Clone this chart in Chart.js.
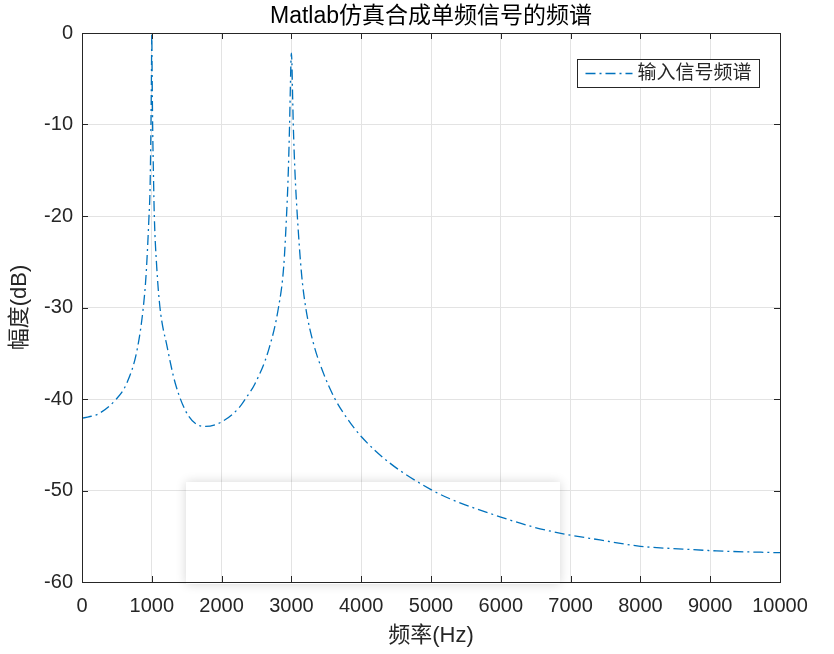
<!DOCTYPE html>
<html>
<head>
<meta charset="utf-8">
<script src="https://cdn.jsdelivr.net/npm/chart.js@4.4.1/dist/chart.umd.min.js"></script>
<style>
  html, body { margin: 0; padding: 0; background: #fff; }
</style>
</head>
<body>
<canvas id="specChart" width="834" height="654"></canvas>
<script>
// --- data ---
const freqHz = [0, 240, 480, 640, 790, 878, 920, 960, 975, 988, 995, 1000, 1005, 1012, 1025,
  1036, 1070, 1117, 1220, 1337, 1530, 1770, 2000, 2245, 2340, 2480, 2675, 2815, 2890, 2930,
  2952, 2974, 2985, 2993, 3000, 3007, 3015, 3027, 3050, 3085, 3145, 3205, 3315, 3460, 3625,
  3815, 4000, 4410, 5000, 5270, 6000, 6470, 6940, 7420, 8000, 8610, 9090, 10000];
const magDb = [-42.1, -41.6, -40.1, -38.3, -34.6, -30.0, -26.2, -20.0, -17.0, -10.0, -4.5, 0, -4.5, -10.0, -16.0,
  -20.0, -25.5, -30.0, -34.3, -38.3, -41.9, -43.0, -42.5, -41.0, -40.0, -38.3, -34.6, -30.0, -25.5, -20.0,
  -16.0, -10.0, -6.0, -3.2, -2.2, -3.2, -6.0, -10.0, -15.0, -20.0, -26.3, -30.0, -33.9, -37.2, -40.0,
  -42.3, -44.1, -47.0, -49.9, -50.9, -52.9, -54.0, -54.8, -55.4, -56.1, -56.4, -56.6, -56.8];
const xTicks = [0, 1000, 2000, 3000, 4000, 5000, 6000, 7000, 8000, 9000, 10000];
const yTicks = [0, -10, -20, -30, -40, -50, -60];
const seriesLabel = '输入信号频谱';

const FONT = "'Liberation Sans', Arial, 'Noto Sans CJK SC', sans-serif";
const AXIS_COLOR = '#262626';

// faint white panel with a soft shadow sitting over the lower plot
const fadePanel = {
  id: 'fadePanel',
  beforeDatasetsDraw(chart) {
    const ctx = chart.ctx;
    const r = { x: 186, y: 482, w: 374, h: 102 };
    ctx.save();
    ctx.beginPath();
    ctx.rect(0, 0, chart.width, chart.height);
    ctx.rect(r.x, r.y, r.w, r.h);
    ctx.clip('evenodd');
    ctx.shadowColor = 'rgba(0,0,0,0.16)';
    ctx.shadowBlur = 10;
    ctx.fillStyle = '#fff';
    ctx.fillRect(r.x, r.y, r.w, r.h);
    ctx.restore();
  }
};

// matlab style box with inward ticks on all sides
const matlabFrame = {
  id: 'matlabFrame',
  afterDatasetsDraw(chart) {
    const { ctx, chartArea: a, scales: { x, y } } = chart;
    ctx.save();
    ctx.strokeStyle = AXIS_COLOR;
    ctx.lineWidth = 1;
    ctx.beginPath();
    x.ticks.forEach(t => {
      const px = Math.round(x.getPixelForValue(t.value)) + 0.5;
      ctx.moveTo(px, a.bottom); ctx.lineTo(px, a.bottom - 6);
      ctx.moveTo(px, a.top); ctx.lineTo(px, a.top + 6);
    });
    y.ticks.forEach(t => {
      const py = Math.round(y.getPixelForValue(t.value)) + 0.5;
      ctx.moveTo(a.left, py); ctx.lineTo(a.left + 6, py);
      ctx.moveTo(a.right, py); ctx.lineTo(a.right - 6, py);
    });
    ctx.stroke();
    ctx.strokeRect(Math.round(a.left) + 0.5, Math.round(a.top) + 0.5,
      Math.round(a.right - a.left), Math.round(a.bottom - a.top));
    ctx.restore();
  }
};

// legend box in the top right corner of the axes
const legendBox = {
  id: 'legendBox',
  afterDraw(chart) {
    const ds = chart.data.datasets[0];
    const { ctx, chartArea: a } = chart;
    const bx = Math.round(a.right) - 202.5, by = Math.round(a.top) + 26.5;
    ctx.save();
    ctx.fillStyle = '#fff';
    ctx.fillRect(bx, by, 182, 28);
    ctx.strokeStyle = AXIS_COLOR;
    ctx.lineWidth = 1;
    ctx.strokeRect(bx, by, 182, 28);
    ctx.setLineDash(ds.borderDash);
    ctx.strokeStyle = ds.borderColor;
    ctx.lineWidth = ds.borderWidth;
    ctx.beginPath();
    ctx.moveTo(bx + 8, by + 14);
    ctx.lineTo(bx + 55, by + 14);
    ctx.stroke();
    ctx.setLineDash([]);
    ctx.fillStyle = AXIS_COLOR;
    ctx.font = '19px ' + FONT;
    ctx.textBaseline = 'middle';
    ctx.fillText(ds.label, bx + 60, by + 14.5);
    ctx.restore();
  }
};

const specCtx = document.getElementById('specChart').getContext('2d');

new Chart(specCtx, {
  type: 'line',
  data: {
    datasets: [{
      label: seriesLabel,
      data: freqHz.map((f, i) => ({ x: f, y: magDb[i] })),
      borderColor: '#0072BD',
      borderWidth: 1.3,
      borderDash: [10, 4, 2, 4],
      pointRadius: 0,
      fill: false,
      cubicInterpolationMode: 'monotone'
    }]
  },
  options: {
    responsive: false,
    animation: false,
    devicePixelRatio: 1,
    layout: { padding: { left: 0, right: 54, top: 0, bottom: 0 } },
    plugins: {
      legend: { display: false },
      tooltip: { enabled: false },
      title: {
        display: true,
        fullSize: false,
        text: 'Matlab仿真合成单频信号的频谱',
        color: '#000',
        font: { family: FONT, size: 23, weight: 'normal' },
        padding: { top: 3, bottom: 2.4 }
      }
    },
    scales: {
      x: {
        type: 'linear',
        min: 0,
        max: 10000,
        afterBuildTicks: s => { s.ticks = xTicks.map(v => ({ value: v })); },
        afterFit: s => { s.height = 72; },
        grid: { color: '#e3e3e3', drawTicks: false },
        border: { display: false },
        ticks: {
          color: AXIS_COLOR, font: { family: FONT, size: 20 }, padding: 12,
          maxRotation: 0, autoSkip: false, callback: v => String(v)
        },
        title: {
          display: true, text: '频率(Hz)', color: AXIS_COLOR,
          font: { family: FONT, size: 22 }, padding: { top: 0, bottom: 5 }
        }
      },
      y: {
        type: 'linear',
        min: -60,
        max: 0,
        afterBuildTicks: s => { s.ticks = yTicks.map(v => ({ value: v })); },
        afterFit: s => { s.width = 82; },
        grid: { color: '#e3e3e3', drawTicks: false },
        border: { display: false },
        ticks: { color: AXIS_COLOR, font: { family: FONT, size: 20 }, padding: 9, callback: v => String(v) },
        title: {
          display: true, text: '幅度(dB)', color: AXIS_COLOR,
          font: { family: FONT, size: 22 }, padding: { top: 7, bottom: 0 }
        }
      }
    }
  },
  plugins: [fadePanel, matlabFrame, legendBox]
});
</script>
</body>
</html>
